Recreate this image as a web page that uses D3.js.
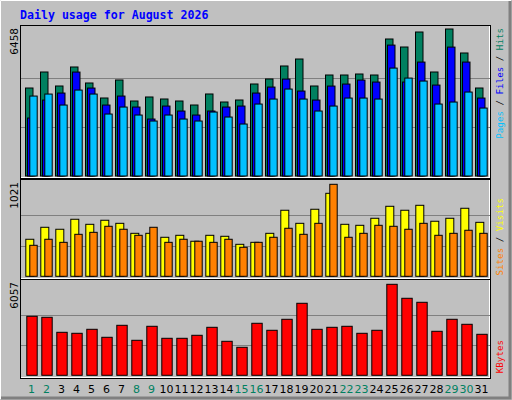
<!DOCTYPE html>
<html><head><meta charset="utf-8">
<script src="https://cdn.jsdelivr.net/npm/d3@7"></script>
<style>body{margin:0;background:#fff}</style>
</head><body>
<script>
const days = d3.range(1, 32);
const weekendDays = [1, 2, 8, 9, 15, 16, 22, 23, 29, 30];
const hits = [3866,4569,3954,4789,4086,3427,4218,3295,3471,3383,3295,3119,3603,3251,3339,4042,4262,4833,5140,3954,4437,4437,4481,4437,6019,5667,6326,4569,6458,5404,3866];
const files = [2546,3336,3644,4566,3863,3117,3512,3029,2502,3073,2854,2678,2854,3029,3073,3644,3907,4258,3732,3336,3951,4039,4214,4127,5751,4127,5005,3995,5663,5005,3424];
const pages = [3512,3600,3117,3775,3600,2722,3029,2678,2415,2678,2502,2415,2810,2590,2283,3161,3380,3819,3380,2854,3073,3424,3424,3380,4741,4302,4171,3161,3249,3688,2985];
const visits = [411,544,522,633,577,622,588,477,477,433,455,389,455,444,355,377,477,733,588,744,921,577,566,644,777,733,788,611,644,755,599];
const sites = [344,411,377,466,488,555,522,455,544,377,411,389,377,411,322,377,433,533,466,588,1021,433,477,566,555,522,588,455,477,511,477];
const kbytes = [3928,3861,2862,2796,3062,2530,3328,2330,3262,2463,2463,2663,3195,2263,1864,3462,2996,3728,4793,3062,3195,3262,2796,2996,6057,5126,4860,2929,3728,3395,2729];

const svg = d3.select('body').append('svg').attr('width', 512).attr('height', 400)
  .style('font-family', 'DejaVu Sans Mono');

svg.append('rect').attr('width', 512).attr('height', 400).attr('fill', '#c0c0c0');
svg.append('path').attr('d', 'M0.5,399V0.5H511').attr('stroke', '#fff').attr('fill', 'none');
svg.append('path').attr('d', 'M510,1V398H1').attr('stroke', '#808080').attr('stroke-width', 3).attr('fill', 'none');

svg.append('text').attr('x', 20).attr('y', 19).attr('fill', '#0000ff')
  .style('font-size', '11.6px').style('font-weight', 'bold')
  .text('Daily usage for August 2026');

const x = d3.scaleLinear().domain([1, 32]).range([25, 490]);

const panels = [
  {top: 25, bottom: 178, base: 176, h: 147, max: 6458, label: '6458',
   legend: [['Pages', '#00c0ff'], [' / ', '#000'], ['Files', '#0000ff'], [' / ', '#000'], ['Hits', '#008060']], legendEnd: 28,
   series: [{v: hits, c: '#008060', dx: 0, w: 7.5}, {v: files, c: '#0000ff', dx: 2, w: 7.5}, {v: pages, c: '#00c0ff', dx: 4.3, w: 7.4}]},
  {top: 179, bottom: 279, base: 276.3, h: 92, max: 1021, label: '1021',
   legend: [['Sites', '#ff8000'], [' / ', '#000'], ['Visits', '#ffff00']], legendEnd: 198,
   series: [{v: visits, c: '#ffff00', dx: 0.3, w: 8}, {v: sites, c: '#ff8000', dx: 4.3, w: 7.4}]},
  {top: 279, bottom: 378, base: 375.3, h: 91, max: 6057, label: '6057',
   legend: [['KBytes', '#ff0000']], legendEnd: 340,
   series: [{v: kbytes, c: '#ff0000', dx: 1.3, w: 10.4}]}
];

panels.forEach(p => {
  const y = d3.scaleLinear().domain([0, p.max]).range([p.base, p.base - p.h]);
  const g = svg.append('g');
  g.append('rect').attr('x', 20.5).attr('y', p.top + 0.5).attr('width', 470).attr('height', p.bottom - p.top)
    .attr('fill', '#c0c0c0').attr('stroke', '#000');
  g.append('path').attr('d', `M21,${p.bottom - 0.5}H490M${490 - 0.5},${p.top + 1}V${p.bottom}`)
    .attr('stroke', '#fff').attr('fill', 'none');
  [1 / 3, 2 / 3].forEach(f => {
    g.append('line').attr('x1', 21).attr('x2', 490)
      .attr('y1', Math.round(y(p.max * f)) + 0.5).attr('y2', Math.round(y(p.max * f)) + 0.5)
      .attr('stroke', '#808080');
  });
  p.series.forEach(s => {
    g.selectAll(null).data(days).enter().append('rect')
      .attr('x', d => x(d) + s.dx + 0.5)
      .attr('y', (d, i) => y(s.v[i]))
      .attr('width', s.w)
      .attr('height', (d, i) => p.base - y(s.v[i]))
      .attr('fill', s.c).attr('stroke', '#000').attr('stroke-width', 1);
  });
  svg.append('text').attr('transform', `translate(18,${p.top + 3}) rotate(-90)`)
    .attr('text-anchor', 'end').style('font-size', '10.5px').style('font-family', 'DejaVu Sans')
    .attr('fill', '#000').text(p.label);
  const t = svg.append('text').attr('transform', `translate(503,${p.legendEnd}) rotate(-90)`)
    .attr('text-anchor', 'end').style('font-size', '9.2px');
  p.legend.forEach(([s, c]) => t.append('tspan').attr('fill', c).text(s));
});

svg.append('g').selectAll('text').data(days).enter().append('text')
  .attr('x', d => x(d) + 6.5).attr('y', 393).attr('text-anchor', 'middle')
  .style('font-size', '11px').style('font-family', 'DejaVu Sans')
  .attr('fill', d => weekendDays.includes(d) ? '#008060' : '#000')
  .text(d => d);
</script>
</body></html>
